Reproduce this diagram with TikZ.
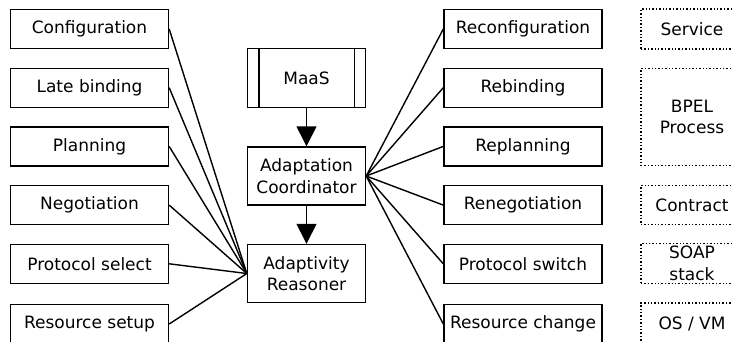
\documentclass[tikz,border=0pt]{standalone}
\usepackage{fontspec}
\setmainfont{DejaVu Sans}
\usetikzlibrary{arrows.meta}
\begin{document}
\begin{tikzpicture}[x=1pt,y=-1pt,
  every node/.style={font=\fontsize{17}{21.5}\selectfont},
  box/.style={draw,line width=1.4pt,minimum width=158pt,minimum height=39pt,inner sep=0pt,align=center},
  mid/.style={draw,line width=1.4pt,minimum width=118pt,minimum height=58pt,inner sep=0pt,align=center},
  layer/.style={draw,dotted,line width=1.4pt,minimum width=102pt,inner sep=0pt,align=center},
  conn/.style={line width=1.4pt},
  arr/.style={line width=1.4pt,-{Triangle[width=20pt,length=20pt]}}]
\useasboundingbox (0,0) rectangle (733,341);
% left column
\node[box] (cfg) at (89.5,29) {Configuration};
\node[box] (late) at (89.5,87.7) {Late binding};
\node[box] (plan) at (89.5,146.4) {Planning};
\node[box] (neg) at (89.5,205.1) {Negotiation};
\node[box] (psel) at (89.5,263.8) {Protocol select};
\node[box] (rset) at (89.5,324) {Resource setup};
% middle
\node[mid,minimum height=59pt] (maas) at (306.5,78) {MaaS};
\draw[line width=1.4pt] ([xshift=12pt]maas.north west) -- ([xshift=12pt]maas.south west);
\draw[line width=1.4pt] ([xshift=-12pt]maas.north east) -- ([xshift=-12pt]maas.south east);
\node[mid] (coord) at (306.5,176) {Adaptation\\Coordinator};
\node[mid] (reas) at (306.5,273.5) {Adaptivity\\Reasoner};
\draw[arr] (maas) -- (coord);
\draw[arr] (coord) -- (reas);
% right column
\node[box] (recfg) at (523,29) {Reconfiguration};
\node[box] (rebind) at (523,87.7) {Rebinding};
\node[box] (replan) at (523,146.4) {Replanning};
\node[box] (reneg) at (523,205.1) {Renegotiation};
\node[box] (pswitch) at (523,263.8) {Protocol switch};
\node[box] (rchange) at (523,324) {Resource change};
% layers
\node[layer,minimum height=40pt] (svc) at (692,29) {Service};
\node[layer,minimum height=97pt] (bpel) at (692,117) {BPEL\\Process};
\node[layer,minimum height=39pt] (contract) at (692,205) {Contract};
\node[layer,minimum height=40pt] (soap) at (692,263.5) {SOAP\\stack};
\node[layer,minimum height=42pt] (os) at (692,324) {OS / VM};
% connectors
\foreach \n in {cfg,late,plan,neg,psel,rset}
  \draw[conn] (\n.east) -- (reas.west);
\foreach \n in {recfg,rebind,replan,reneg,pswitch,rchange}
  \draw[conn] (coord.east) -- (\n.west);
\end{tikzpicture}
\end{document}
